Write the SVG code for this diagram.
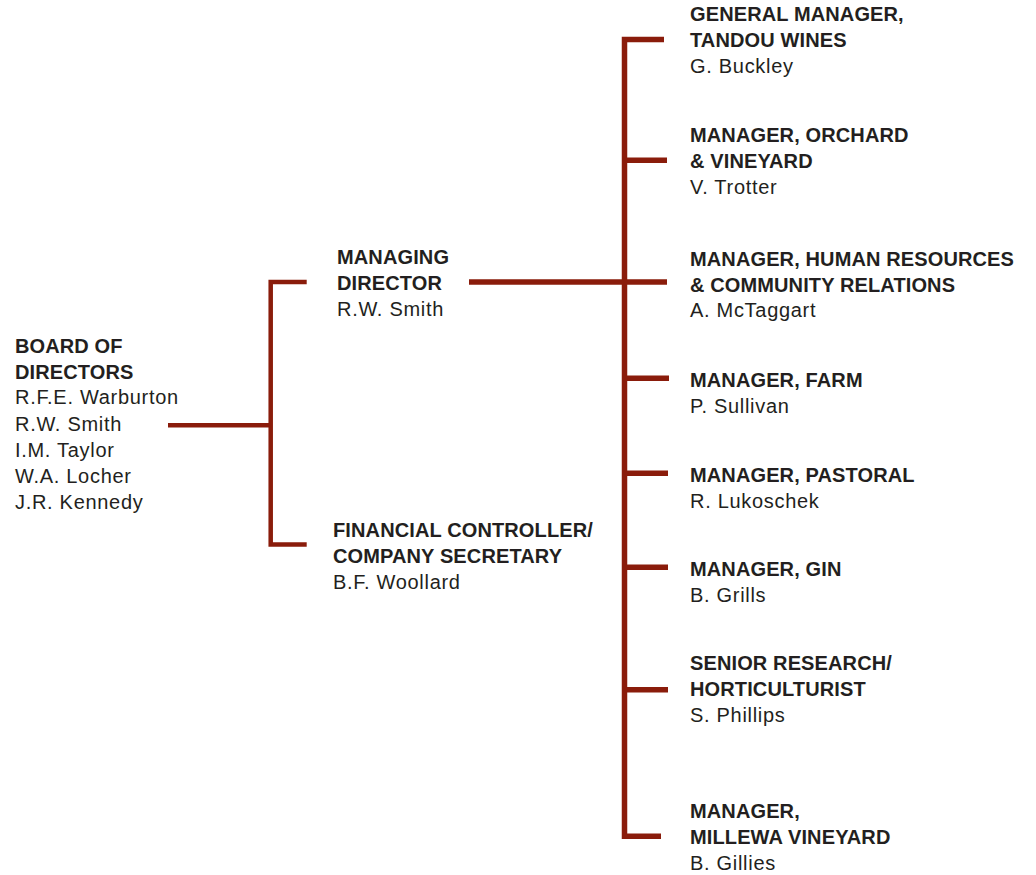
<svg xmlns="http://www.w3.org/2000/svg" width="1036" height="875" viewBox="0 0 1036 875">
<style>
  .ln { fill: none; stroke: #8a1c0b; stroke-linecap: butt; stroke-linejoin: miter; }
  .l { stroke-width: 4.5; }
  .r { stroke-width: 5.5; }
  text { font-family: "Liberation Sans", Arial, Helvetica, sans-serif; font-size: 20px; fill: #231f20; letter-spacing: 0.7px; }
  .b { font-weight: bold; letter-spacing: 0.12px; }
</style>
<rect width="1036" height="875" fill="#ffffff"/>
<g id="connectors">
  <polyline class="ln l" points="306.7,282 270.7,282 270.7,544.5 306.7,544.5"/>
  <line class="ln l" x1="168" y1="425.3" x2="270.7" y2="425.3"/>
  <line class="ln r" x1="469" y1="282" x2="667" y2="282"/>
  <polyline class="ln r" points="664,39.5 624.5,39.5 624.5,836.3 661,836.3"/>
  <line class="ln r" x1="624.5" y1="160.3" x2="667" y2="160.3"/>
  <line class="ln r" x1="624.5" y1="378.3" x2="669" y2="378.3"/>
  <line class="ln r" x1="624.5" y1="473.3" x2="668" y2="473.3"/>
  <line class="ln r" x1="624.5" y1="567.2" x2="668" y2="567.2"/>
  <line class="ln r" x1="624.5" y1="689.7" x2="668" y2="689.7"/>
</g>
<g id="board">
  <text class="b" x="15" y="352.5">BOARD OF</text>
  <text class="b" x="15" y="378.5">DIRECTORS</text>
  <text x="15" y="404">R.F.E. Warburton</text>
  <text x="15" y="430.5">R.W. Smith</text>
  <text x="15" y="456.7">I.M. Taylor</text>
  <text x="15" y="482.7">W.A. Locher</text>
  <text x="15" y="508.5">J.R. Kennedy</text>
</g>
<g id="managing-director">
  <text class="b" x="337" y="263.5">MANAGING</text>
  <text class="b" x="337" y="289.5">DIRECTOR</text>
  <text x="337" y="315.5">R.W. Smith</text>
</g>
<g id="financial-controller">
  <text class="b" x="333" y="537">FINANCIAL CONTROLLER/</text>
  <text class="b" x="333" y="563">COMPANY SECRETARY</text>
  <text x="333" y="589">B.F. Woollard</text>
</g>
<g id="gm-tandou">
  <text class="b" x="690" y="21">GENERAL MANAGER,</text>
  <text class="b" x="690" y="47">TANDOU WINES</text>
  <text x="690" y="73">G. Buckley</text>
</g>
<g id="orchard-vineyard">
  <text class="b" x="690" y="142">MANAGER, ORCHARD</text>
  <text class="b" x="690" y="168">&amp; VINEYARD</text>
  <text x="690" y="194">V. Trotter</text>
</g>
<g id="human-resources">
  <text class="b" x="690" y="265.5">MANAGER, HUMAN RESOURCES</text>
  <text class="b" x="690" y="291.5">&amp; COMMUNITY RELATIONS</text>
  <text x="690" y="317">A. McTaggart</text>
</g>
<g id="farm">
  <text class="b" x="690" y="386.5">MANAGER, FARM</text>
  <text x="690" y="412.5">P. Sullivan</text>
</g>
<g id="pastoral">
  <text class="b" x="690" y="481.5">MANAGER, PASTORAL</text>
  <text x="690" y="507.5">R. Lukoschek</text>
</g>
<g id="gin">
  <text class="b" x="690" y="576">MANAGER, GIN</text>
  <text x="690" y="602">B. Grills</text>
</g>
<g id="research">
  <text class="b" x="690" y="670">SENIOR RESEARCH/</text>
  <text class="b" x="690" y="696">HORTICULTURIST</text>
  <text x="690" y="722">S. Phillips</text>
</g>
<g id="millewa">
  <text class="b" x="690" y="818">MANAGER,</text>
  <text class="b" x="690" y="844">MILLEWA VINEYARD</text>
  <text x="690" y="870">B. Gillies</text>
</g>
</svg>
